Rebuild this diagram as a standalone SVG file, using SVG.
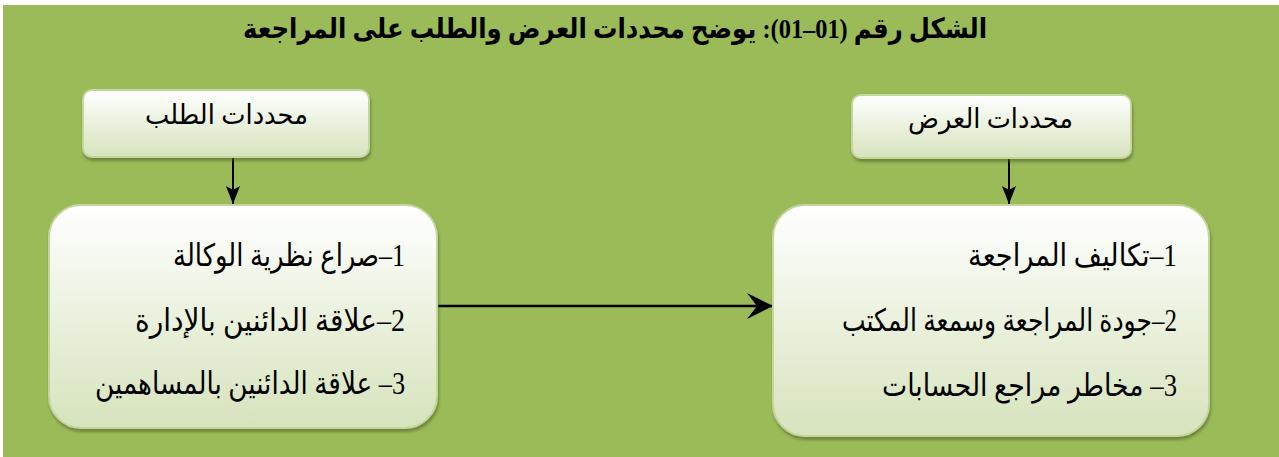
<svg xmlns="http://www.w3.org/2000/svg" width="1279" height="457" viewBox="0 0 1279 457">
<style>
.t{font-family:"Liberation Serif","DejaVu Sans",serif;fill:#000;direction:rtl;unicode-bidi:embed}
.title{font-size:28px;font-weight:bold}
.lbl{font-size:27px}
.item{font-size:31px}
.box{fill:url(#g);stroke:#c3d69b;stroke-width:2;filter:url(#sh)}
.conn{stroke:#000;stroke-width:2;fill:none}
</style>
<defs>
<linearGradient id="g" x1="0" y1="0" x2="0" y2="1">
<stop offset="0" stop-color="#ffffff"/>
<stop offset="1" stop-color="#d6e3bc"/>
</linearGradient>
<filter id="sh" x="-10%" y="-10%" width="120%" height="130%">
<feDropShadow dx="1" dy="3" stdDeviation="1.5" flood-color="#4f6228" flood-opacity="0.6"/>
</filter>
<marker id="ah" viewBox="0 0 18 14" refX="18" refY="7" markerWidth="18" markerHeight="14" markerUnits="userSpaceOnUse" orient="auto">
<path d="M0,0 L18,7 L0,14 L4,7 Z" fill="#000"/>
</marker>
<marker id="ahl" viewBox="0 0 26 26" refX="26" refY="13" markerWidth="26" markerHeight="26" markerUnits="userSpaceOnUse" orient="auto">
<path d="M0,0 L26,13 L0,26 L10,13 Z" fill="#000"/>
</marker>
</defs>
<rect x="3" y="5" width="1276" height="452" fill="#9bbb59"/>
<text class="t title" x="987" y="38" text-anchor="start" textLength="744" lengthAdjust="spacingAndGlyphs">الشكل رقم (01–01): يوضح محددات العرض والطلب على المراجعة</text>
<g id="connectors">
<line class="conn" x1="233" y1="157" x2="233" y2="204" marker-end="url(#ah)"/>
<line class="conn" x1="1009" y1="158" x2="1009" y2="204" marker-end="url(#ah)"/>
<line class="conn" style="stroke-width:2.5" x1="438" y1="306" x2="773" y2="306" marker-end="url(#ahl)"/>
</g>
<g id="demand-label">
<rect class="box" x="83" y="90" width="286" height="67" rx="9"/>
<text class="t lbl" x="308" y="124" text-anchor="start" textLength="163" lengthAdjust="spacingAndGlyphs">محددات الطلب</text>
</g>
<g id="supply-label">
<rect class="box" x="852" y="95" width="279" height="63" rx="9"/>
<text class="t lbl" x="1073" y="128" text-anchor="start" textLength="165" lengthAdjust="spacingAndGlyphs">محددات العرض</text>
</g>
<g id="demand-items">
<rect class="box" x="49" y="205" width="388" height="223" rx="32"/>
<text class="t item" x="405" y="266" text-anchor="start" textLength="232" lengthAdjust="spacingAndGlyphs">1–صراع نظرية الوكالة</text>
<text class="t item" x="405" y="331" text-anchor="start" textLength="270" lengthAdjust="spacingAndGlyphs">2–علاقة الدائنين بالإدارة</text>
<text class="t item" x="405" y="394" text-anchor="start" textLength="310" lengthAdjust="spacingAndGlyphs">3– علاقة الدائنين بالمساهمين</text>
</g>
<g id="supply-items">
<rect class="box" x="773" y="205" width="436" height="231" rx="32"/>
<text class="t item" x="1177" y="266" text-anchor="start" textLength="209" lengthAdjust="spacingAndGlyphs">1–تكاليف المراجعة</text>
<text class="t item" x="1177" y="331" text-anchor="start" textLength="335" lengthAdjust="spacingAndGlyphs">2–جودة المراجعة وسمعة المكتب</text>
<text class="t item" x="1177" y="396" text-anchor="start" textLength="295" lengthAdjust="spacingAndGlyphs">3– مخاطر مراجع الحسابات</text>
</g>
</svg>
